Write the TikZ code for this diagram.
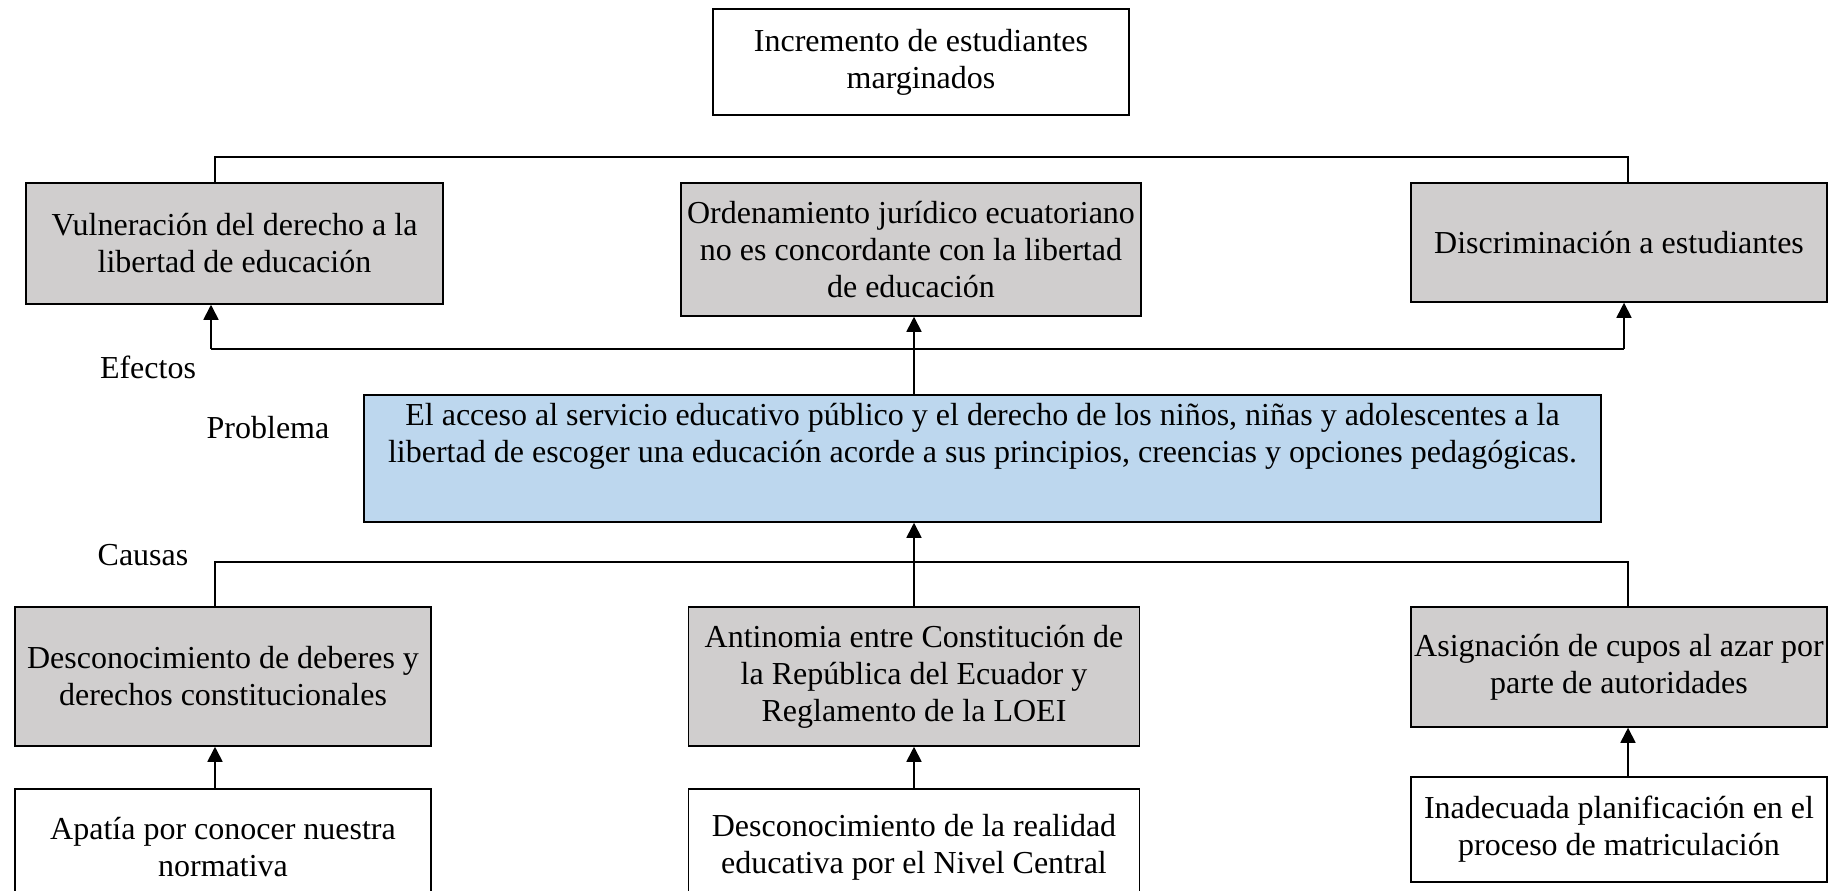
\documentclass[tikz,border=0pt]{standalone}
\usepackage{fontspec}
\setmainfont{Liberation Serif}
\usetikzlibrary{arrows.meta}

\definecolor{grisclaro}{RGB}{208,206,206}
\definecolor{azulclaro}{RGB}{189,215,238}

\begin{document}
\begin{tikzpicture}[x=1pt,y=-1pt,
		>={Triangle[length=15pt,width=15pt]},
		texto/.style={inner sep=0pt,align=center,font=\fontsize{32}{37}\selectfont},
		caja/.style={texto,draw=black,line width=1.5pt},
		gris/.style={caja,fill=grisclaro},
		linea/.style={draw=black,line width=1.7pt}]
	\useasboundingbox (0,0) rectangle (1841,891);
	\clip (0,0) rectangle (1841,891);
	
	\begin{scope}[every node/.style={caja}]
		\node[minimum width=416pt,minimum height=106pt] (inc) at (921,62) {Incremento de estudiantes\\marginados};
		\node[gris,minimum width=417pt,minimum height=121pt] (vul) at (234.5,243.5) {Vulneración del derecho a la\\libertad de educación};
		\node[gris,minimum width=460pt,minimum height=133pt] (ord) at (911,249.5) {Ordenamiento jurídico ecuatoriano\\no es concordante con la libertad\\de educación};
		\node[gris,minimum width=416pt,minimum height=119pt] (dis) at (1619,242.5) {Discriminación a estudiantes};
		\node[fill=azulclaro,minimum width=1237pt,minimum height=127pt] (prob) at (982.5,458.5) {};
		\node[gris,minimum width=416pt,minimum height=139pt] (desc) at (223,676.5) {Desconocimiento de deberes y\\derechos constitucionales};
		\node[gris,minimum width=451pt,minimum height=139pt] (ant) at (914,676.5) {Antinomia entre Constitución de\\la República del Ecuador y\\Reglamento de la LOEI};
		\node[gris,minimum width=416pt,minimum height=120pt] (asig) at (1619,667) {Asignación de cupos al azar por\\parte de autoridades};
		\node[minimum width=416pt,minimum height=116pt] (apa) at (223,847) {Apatía por conocer nuestra\\normativa};
		\node[minimum width=451pt,minimum height=116pt] (dnc) at (914,847) {Desconocimiento de la realidad\\educativa por el Nivel Central};
		\node[minimum width=416pt,minimum height=105pt] (inad) at (1619,829.5) {Inadecuada planificación en el\\proceso de matriculación};
	\end{scope}
	
	\begin{scope}[every node/.style={texto}]
		\node (probtxt) at (982.5,436.5) {El acceso al servicio educativo público y el derecho de los niños, niñas y adolescentes a la\\libertad de escoger una educación acorde a sus principios, creencias y opciones pedagógicas.};
		\node (efe) at (148,367) {Efectos};
		\node (pro) at (268,428) {Problema};
		\node (cau) at (143,555) {Causas};
	\end{scope}
	
	\coordinate (supIzq) at (215,157);
	\coordinate (supDer) at (1628,157);
	\coordinate (efeIzq) at (211,349);
	\coordinate (efeDer) at (1624,349);
	\coordinate (cauIzq) at (215,562);
	\coordinate (cauDer) at (1628,562);
	
	\begin{scope}[every edge/.style={linea}]
		\draw[linea] (vul.north -| supIzq) -- (supIzq) -- (supDer) -- (dis.north -| supDer);
		\draw[linea] (efeIzq) -- (efeDer);
		\path [->] (efeIzq) edge (vul.south -| efeIzq);
		\path [->] (efeDer) edge (dis.south -| efeDer);
		\path [->] (prob.north -| ant) edge (ord.south -| ant);
		\draw[linea] (desc.north -| cauIzq) -- (cauIzq) -- (cauDer) -- (asig.north -| cauDer);
		\path [->] (ant.north) edge (prob.south -| ant);
		\path [->] (apa.north -| cauIzq) edge (desc.south -| cauIzq);
		\path [->] (dnc.north) edge (ant.south);
		\path [->] (inad.north -| cauDer) edge (asig.south -| cauDer);
	\end{scope}
\end{tikzpicture}
\end{document}
